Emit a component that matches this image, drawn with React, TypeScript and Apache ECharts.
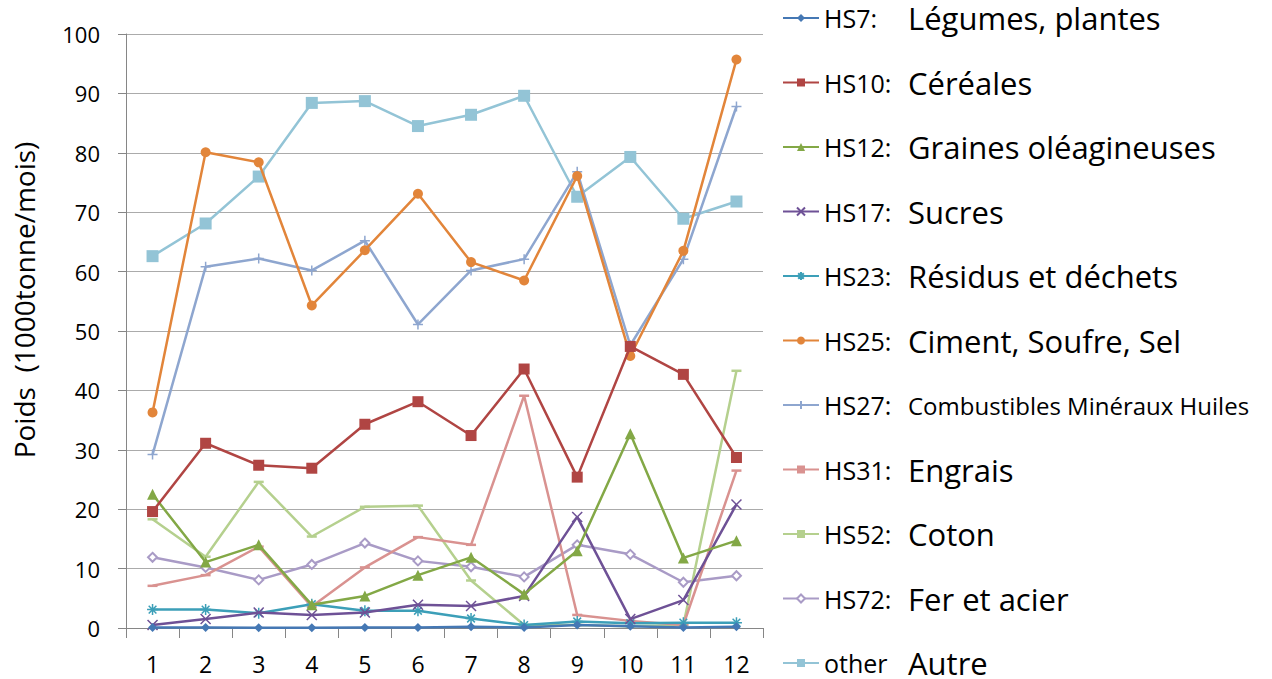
import React, { useEffect, useRef } from "react";
import * as echarts from "echarts";

const months = ["1", "2", "3", "4", "5", "6", "7", "8", "9", "10", "11", "12"];

const hs7 = [0.1, 0.1, 0.05, 0.05, 0.1, 0.1, 0.2, 0.1, 0.5, 0.3, 0.1, 0.2];
const hs10 = [19.6, 31.1, 27.4, 26.9, 34.3, 38.1, 32.4, 43.6, 25.4, 47.4, 42.7, 28.7];
const hs12 = [22.5, 11.1, 14.0, 3.9, 5.4, 8.9, 11.9, 5.7, 13.0, 32.7, 11.8, 14.7];
const hs17 = [0.5, 1.5, 2.6, 2.2, 2.6, 3.9, 3.7, 5.4, 18.7, 1.5, 4.7, 20.8];
const hs23 = [3.1, 3.1, 2.5, 4.0, 2.9, 2.9, 1.6, 0.5, 1.1, 0.8, 0.9, 0.9];
const hs25 = [36.3, 80.1, 78.4, 54.3, 63.6, 73.1, 61.6, 58.5, 76.1, 45.8, 63.5, 95.7];
const hs27 = [29.2, 60.8, 62.2, 60.2, 65.2, 51.1, 60.2, 62.1, 76.8, 47.6, 62.1, 87.8];
const hs31 = [7.1, 8.9, 13.7, 3.6, 10.2, 15.3, 14.0, 39.1, 2.2, 1.2, 0.5, 26.5];
const hs52 = [18.3, 12.0, 24.6, 15.4, 20.4, 20.6, 8.0, 0.5, 0.5, 0.3, 0.5, 43.3];
const hs72 = [11.9, 10.2, 8.1, 10.7, 14.3, 11.3, 10.3, 8.6, 14.0, 12.4, 7.7, 8.8];
const other = [62.6, 68.1, 76.0, 88.4, 88.7, 84.5, 86.4, 89.6, 72.6, 79.3, 68.9, 71.8];

const codes = ["HS7:", "HS10:", "HS12:", "HS17:", "HS23:", "HS25:", "HS27:", "HS31:", "HS52:", "HS72:", "other"];
const labels = [
  "Légumes, plantes",
  "Céréales",
  "Graines oléagineuses",
  "Sucres",
  "Résidus et déchets",
  "Ciment, Soufre, Sel",
  "Combustibles Minéraux Huiles",
  "Engrais",
  "Coton",
  "Fer et acier",
  "Autre",
];
const yTitle = "Poids  (1000tonne/mois)";
const seriesData = [hs7, hs10, hs12, hs17, hs23, hs25, hs27, hs31, hs52, hs72, other];
const colors = [
  "#4578B4",
  "#B04543",
  "#83A846",
  "#6E5196",
  "#3C9FB8",
  "#E2853A",
  "#8EA6CF",
  "#D99290",
  "#B5D08E",
  "#A99BC6",
  "#93C4D6",
];

const X_PATH = "path://M0,0L10,10M10,0L0,10";
const PLUS_PATH = "path://M5,0L5,10M0,5L10,5";
const STAR_PATH = "path://M5,0L5,10M0,5L10,5M1.5,1.5L8.5,8.5M8.5,1.5L1.5,8.5";

const symbols: any[] = [
  ["diamond", 9],
  ["rect", 11],
  ["triangle", 11],
  [X_PATH, 10],
  [STAR_PATH, 11],
  ["circle", 10],
  [PLUS_PATH, 10],
  ["rect", [10, 2.5]],
  ["rect", [10, 2.5]],
  ["emptyDiamond", 9],
  ["rect", 12],
];

export default function App() {
  const ref = useRef<HTMLDivElement>(null);
  useEffect(() => {
    if (!ref.current) return;
    const chart = echarts.init(ref.current, undefined, { renderer: "svg" });
    const font = "'Open Sans', 'Noto Sans', sans-serif";
    const series = seriesData.map((d, i) => {
      const isPath = typeof symbols[i][0] === "string" && symbols[i][0].startsWith("path://");
      return {
        name: labels[i],
        type: "line",
        data: d,
        symbol: symbols[i][0],
        symbolSize: symbols[i][1],
        showSymbol: true,
        lineStyle: { color: colors[i], width: 2.5 },
        itemStyle: {
          color: colors[i],
          borderColor: colors[i],
          borderWidth: isPath ? 1.5 : symbols[i][0] === "emptyDiamond" ? 1.5 : 0,
        },
        z: 10 - i,
      };
    });
    chart.setOption({
      animation: false,
      backgroundColor: "#ffffff",
      textStyle: { fontFamily: font },
      grid: { left: 126, right: 509, top: 34, bottom: 51, containLabel: false },
      graphic: [
        {
          type: "text",
          x: 24,
          y: 300,
          rotation: Math.PI / 2,
          style: {
            text: yTitle,
            fontSize: 28,
            fontFamily: font,
            fill: "#000",
            align: "center",
            verticalAlign: "middle",
          },
        },
      ],
      legend: {
        orient: "vertical",
        left: 782,
        top: 2,
        height: 720,
        padding: 0,
        itemWidth: 36,
        itemHeight: 10,
        itemGap: 32.5,
        selectedMode: false,
        data: labels,
        formatter: (name: string) => {
          const i = labels.indexOf(name);
          const style = i === 6 ? "c" : "b";
          return `{a|${codes[i]}}{${style}|${name}}`;
        },
        textStyle: {
          fontFamily: font,
          color: "#000",
          lineHeight: 32,
          rich: {
            a: { fontSize: 25, width: 84, color: "#000", fontFamily: font, lineHeight: 32 },
            b: { fontSize: 31, color: "#000", fontFamily: font, lineHeight: 32 },
            c: { fontSize: 24, color: "#000", fontFamily: font, lineHeight: 32 },
          },
        },
      },
      xAxis: {
        type: "category",
        data: months,
        boundaryGap: true,
        axisLine: { lineStyle: { color: "#868686", width: 1 } },
        axisTick: { show: true, length: 10, lineStyle: { color: "#868686" } },
        axisLabel: { color: "#000", fontSize: 23, margin: 24, fontFamily: font },
        splitLine: { show: false },
      },
      yAxis: {
        type: "value",
        min: 0,
        max: 100,
        interval: 10,
        axisLine: { show: true, lineStyle: { color: "#868686", width: 1 } },
        axisTick: { show: true, length: 8, lineStyle: { color: "#868686" } },
        axisLabel: { color: "#000", fontSize: 22, margin: 26, fontFamily: font },
        splitLine: { show: true, lineStyle: { color: "#ababab", width: 1 } },
      },
      series,
    });
    return () => chart.dispose();
  }, []);
  return (
    <div
      ref={ref}
      style={{ position: "fixed", left: 0, top: 0, width: 1272, height: 679, background: "#fff" }}
    />
  );
}
